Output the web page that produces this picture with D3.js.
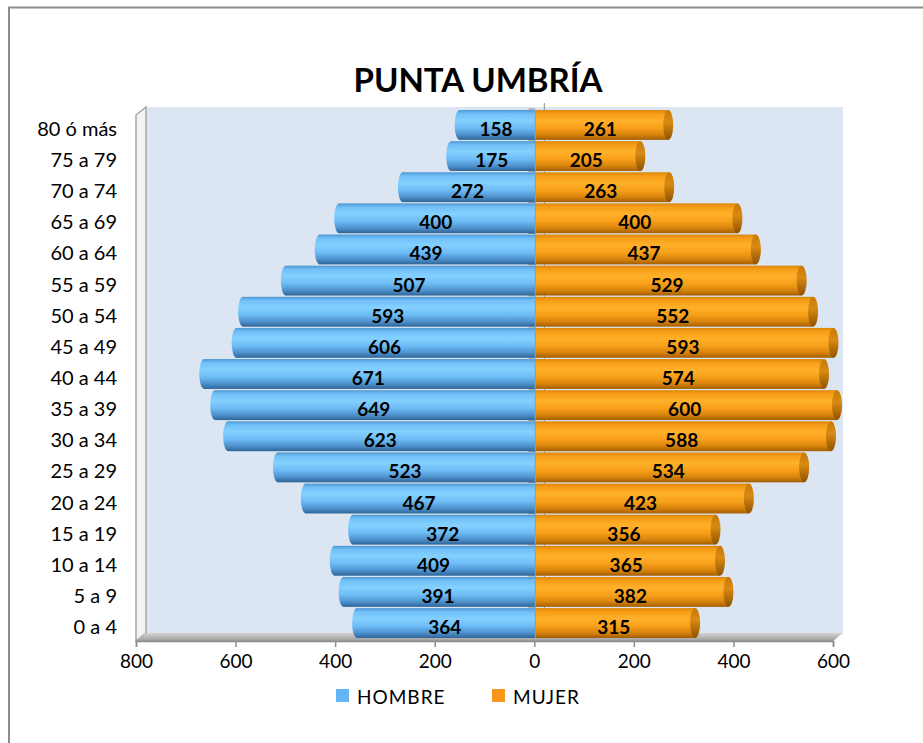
<!DOCTYPE html>
<html>
<head>
<meta charset="utf-8">
<script src="https://cdn.jsdelivr.net/npm/d3@7"></script>
<style>
  body { margin: 0; background: #fff; }
  svg text { font-family: Lato, "Open Sans", sans-serif; }
</style>
</head>
<body>
<svg id="chart"></svg>
<script>
// age groups, top of the pyramid first
const categories = ["80 ó más", "75 a 79", "70 a 74", "65 a 69", "60 a 64", "55 a 59", "50 a 54",
  "45 a 49", "40 a 44", "35 a 39", "30 a 34", "25 a 29", "20 a 24", "15 a 19", "10 a 14", "5 a 9", "0 a 4"];
const hombre = [158, 175, 272, 400, 439, 507, 593, 606, 671, 649, 623, 523, 467, 372, 409, 391, 364];
const mujer = [261, 205, 263, 400, 437, 529, 552, 593, 574, 600, 588, 534, 423, 356, 365, 382, 315];
const xTicks = [-800, -600, -400, -200, 0, 200, 400, 600];
const seriesNames = ["HOMBRE", "MUJER"];

let width = 923;
let height = 743;

let svg = d3.select("#chart").attr("width", width).attr("height", height);

// depth of the 3d box
let dx = 10, dy = -8;
let front = {left: 136, right: 833, bottom: 641};
let wallTop = 107;

let xScale = d3.scaleLinear().domain([-800, 600]).range([front.left, front.right]);
let yScale = d3.scaleBand().domain(categories).range([110, 638]).paddingInner(0.04);

// gradients
let defs = svg.append("defs");
let addGrad = (id, stops) => {
  let g = defs.append("linearGradient").attr("id", id)
    .attr("x1", 0).attr("y1", 0).attr("x2", 0).attr("y2", 1);
  stops.forEach(s => g.append("stop").attr("offset", s[0]).attr("stop-color", s[1]));
};
addGrad("gBlue", [[0, "#4f97d2"], [0.12, "#70bff7"], [0.35, "#84d0ff"], [0.6, "#6dbcf5"], [0.82, "#4f93cf"], [1, "#2f6597"]]);
addGrad("gOrange", [[0, "#dc860a"], [0.12, "#f59d15"], [0.35, "#ffb02a"], [0.6, "#f8a01a"], [0.82, "#d9850c"], [1, "#a35e02"]]);
addGrad("gCap", [[0, "#c87a08"], [0.4, "#d88a12"], [1, "#8f5200"]]);
addGrad("gFloor", [[0, "#d4d4d4"], [1, "#9c9c9c"]]);

// outer chart border
svg.append("rect")
  .attr("x", 9).attr("y", 7.5).attr("width", 940).attr("height", 760)
  .attr("fill", "none").attr("stroke", "#8c8c8c").attr("stroke-width", 2);

// title
svg.append("text")
  .attr("x", 478).attr("y", 92)
  .attr("text-anchor", "middle")
  .attr("font-size", 33).attr("font-weight", "bold")
  .text("PUNTA UMBRÍA");

// back wall
svg.append("rect")
  .attr("x", front.left + dx).attr("y", wallTop)
  .attr("width", front.right - front.left).attr("height", front.bottom + dy - wallTop)
  .attr("fill", "#dce6f2");

// left side wall
svg.append("polygon")
  .attr("points", [[front.left, wallTop - dy], [front.left + dx, wallTop], [front.left + dx, front.bottom + dy], [front.left, front.bottom]].join(" "))
  .attr("fill", "#f4f4f4").attr("stroke", "#a6a6a6").attr("stroke-width", 1.5);

// floor
svg.append("polygon")
  .attr("points", [[front.left, front.bottom], [front.left + dx, front.bottom + dy], [front.right + dx, front.bottom + dy], [front.right, front.bottom]].join(" "))
  .attr("fill", "url(#gFloor)");

// category axis line at zero
let x0 = xScale(0);
svg.append("line")
  .attr("x1", x0 + dx).attr("x2", x0 + dx).attr("y1", wallTop - 4).attr("y2", front.bottom + dy)
  .attr("stroke", "#8c8c8c");
svg.append("g").selectAll("line")
  .data(categories)
  .enter().append("line")
  .attr("x1", x0 - 6).attr("x2", x0 + 1)
  .attr("y1", d => yScale(d) - 1).attr("y2", d => yScale(d) - 1)
  .attr("stroke", "#8c8c8c");

// bars as horizontal cylinders
let ox = 4;      // depth shift of the bar ends
let xj = x0 + 1; // where the two halves meet
let bh = yScale.bandwidth();
let rx = 5;
let rows = categories.map((c, i) => ({cat: c, h: hombre[i], m: mujer[i]}));

let bars = svg.append("g");
rows.forEach(d => {
  let y = yScale(d.cat);
  // hombre: extends to the left, rounded far end
  let xl = xScale(-d.h) + ox;
  bars.append("rect")
    .attr("x", xl).attr("y", y).attr("width", xj - xl).attr("height", bh)
    .attr("fill", "url(#gBlue)");
  bars.append("ellipse")
    .attr("cx", xl).attr("cy", y + bh / 2).attr("rx", rx).attr("ry", bh / 2)
    .attr("fill", "url(#gBlue)");
  // mujer: extends to the right, visible end cap
  let xr = xScale(d.m) + ox;
  bars.append("rect")
    .attr("x", xj).attr("y", y).attr("width", xr - xj).attr("height", bh)
    .attr("fill", "url(#gOrange)");
  bars.append("ellipse")
    .attr("cx", xr).attr("cy", y + bh / 2).attr("rx", rx).attr("ry", bh / 2)
    .attr("fill", "url(#gCap)");
});

// zero line between the two halves
svg.append("line")
  .attr("x1", xj).attr("x2", xj).attr("y1", yScale.range()[0]).attr("y2", yScale.range()[1])
  .attr("stroke", "#8c9aa8").attr("stroke-width", 1);

// value labels
let labels = svg.append("g").attr("font-size", 19).attr("font-weight", "bold").attr("text-anchor", "middle");
labels.selectAll(".lh")
  .data(rows).enter().append("text")
  .attr("x", d => (xScale(-d.h) + x0) / 2 + 1)
  .attr("y", d => yScale(d.cat) + bh / 2 + 11)
  .text(d => d.h);
labels.selectAll(".lm")
  .data(rows).enter().append("text")
  .attr("x", d => (xScale(d.m) + x0) / 2 + 1)
  .attr("y", d => yScale(d.cat) + bh / 2 + 11)
  .text(d => d.m);

// category labels
svg.append("g").selectAll("text")
  .data(categories).enter().append("text")
  .attr("x", 117).attr("y", d => yScale(d) + bh / 2 + 11)
  .attr("text-anchor", "end").attr("font-size", 20)
  .text(d => d);

// x axis
let xAxis = d3.axisBottom(xScale).tickValues(xTicks).tickFormat(d => Math.abs(d)).tickSize(6).tickPadding(8);
let gx = svg.append("g")
  .attr("transform", "translate(0," + front.bottom + ")")
  .call(xAxis);
gx.select(".domain").attr("stroke", "#8c8c8c").attr("stroke-width", 1.5);
gx.selectAll(".tick line").attr("stroke", "#8c8c8c").attr("stroke-width", 1.5);
gx.selectAll(".tick text").attr("font-size", 19).attr("fill", "#000")
  .style("font-family", "Lato, sans-serif");

// legend
let legend = svg.append("g");
let legendX = [336, 492];
let legendColors = ["#64b5f6", "#f7971e"];
seriesNames.forEach((name, i) => {
  legend.append("rect")
    .attr("x", legendX[i]).attr("y", 689).attr("width", 13).attr("height", 13)
    .attr("fill", legendColors[i]);
  legend.append("text")
    .attr("x", legendX[i] + 21).attr("y", 704)
    .attr("font-size", 19).attr("letter-spacing", 1)
    .text(name);
});
</script>
</body>
</html>
